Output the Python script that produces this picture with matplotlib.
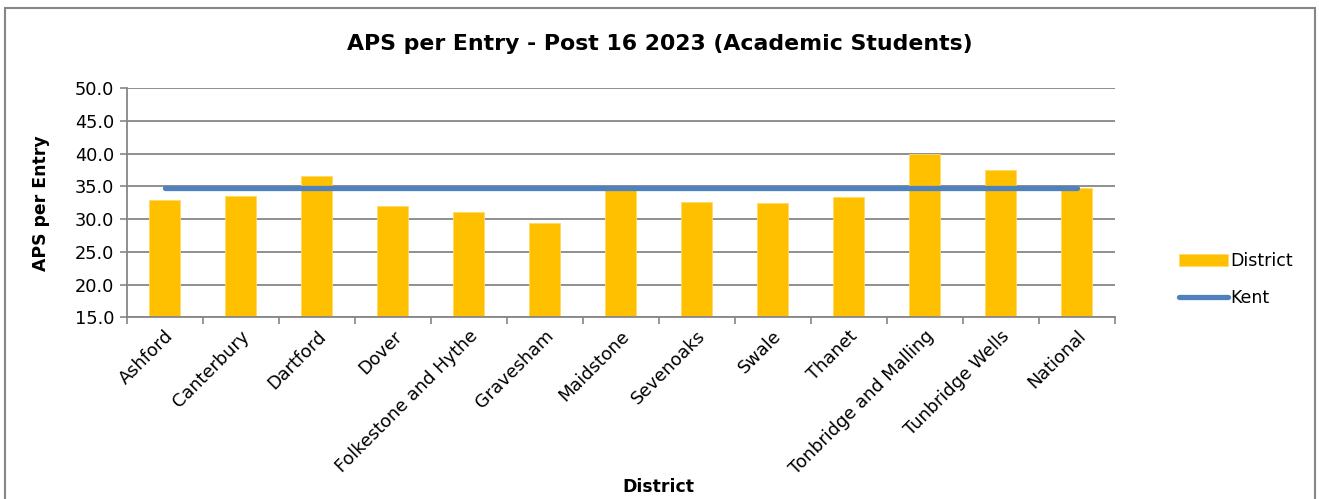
import matplotlib.pyplot as plt
import matplotlib.patches as mpatches
import numpy as np

districts = ["Ashford", "Canterbury", "Dartford", "Dover", "Folkestone and Hythe",
             "Gravesham", "Maidstone", "Sevenoaks", "Swale", "Thanet",
             "Tonbridge and Malling", "Tunbridge Wells", "National"]
district_aps = [33.0, 33.6, 36.6, 32.0, 31.1, 29.4, 34.9, 32.6, 32.4, 33.4, 40.0, 37.5, 34.8]
kent_aps = 34.7

plt.rcParams['font.family'] = ['DejaVu Sans']

fig = plt.figure(figsize=(13.19, 4.99), dpi=100)
ax = fig.add_axes([0.096, 0.364, 0.749, 0.459])

x = np.arange(len(districts))
bars = ax.bar(x, district_aps, width=0.4, color='#FFC000', edgecolor='#FFD966',
              linewidth=0.6, label='District', zorder=2)
line, = ax.plot([x[0], x[-1]], [kent_aps, kent_aps], color='#4F81BD', linewidth=3.8,
                solid_capstyle='round', label='Kent', zorder=3)

ax.set_xlim(-0.5, len(districts) - 0.5)
ax.set_ylim(15, 50)
yt = np.arange(15, 50.1, 5)
ax.set_yticks(yt)
ax.set_yticklabels(["{:.1f}".format(v) for v in yt], fontsize=12.8)
ax.yaxis.grid(True, color='#868686', linewidth=1.3, zorder=0)
ax.set_axisbelow(True)

# ticks between categories, labels at category centres
ax.set_xticks(np.arange(-0.5, len(districts), 1))
ax.set_xticklabels([])
ax.set_xticks(x, minor=True)
ax.set_xticklabels(districts, minor=True, rotation=45, ha='right',
                   rotation_mode='anchor', fontsize=12.8)
ax.tick_params(axis='x', which='minor', length=0, pad=7)
ax.tick_params(axis='x', which='major', length=5, color='#868686', width=1.2)
ax.tick_params(axis='y', length=5, color='#868686', width=1.2, pad=4)

for s in ['top', 'right']:
    ax.spines[s].set_visible(False)
for s in ['left', 'bottom']:
    ax.spines[s].set_color('#868686')
    ax.spines[s].set_linewidth(1.3)

ax.set_ylabel("APS per Entry", fontsize=12.4, fontweight='bold', labelpad=18)
fig.text(0.4995, 0.025, "District", fontsize=12.4, fontweight='bold', ha='center', va='center')
fig.text(0.5, 0.912, "APS per Entry - Post 16 2023 (Academic Students)",
         fontsize=15.8, fontweight='bold', ha='center', va='center')

fig.legend([bars, line], ['District', 'Kent'], loc='center left',
           bbox_to_anchor=(0.882, 0.439), frameon=False, fontsize=12.5,
           handlelength=2.8, handletextpad=0.15, labelspacing=1.1)

# outer chart border
fig.patches.append(mpatches.Rectangle((0.004, -0.02), 0.993, 1.004, transform=fig.transFigure,
                                      fill=False, edgecolor='#868686', linewidth=1.5))

plt.savefig("out.png", dpi=100)
